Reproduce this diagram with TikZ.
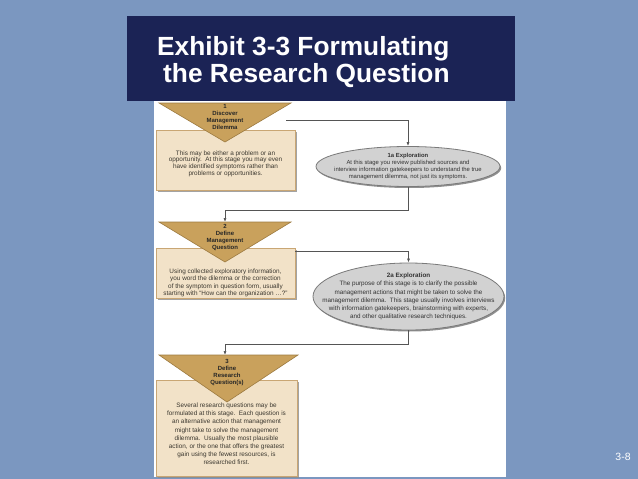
\documentclass[tikz,border=0pt]{standalone}
\usepackage{fontspec}
\setmainfont{Liberation Sans}
\usetikzlibrary{shadows,arrows.meta,shapes.geometric}
\definecolor{bgblue}{HTML}{7B97C0}
\definecolor{navy}{HTML}{1B2355}
\definecolor{trifill}{HTML}{C9A15C}
\definecolor{triedge}{HTML}{9C7A40}
\definecolor{boxfill}{HTML}{F2E2C8}
\definecolor{boxedge}{HTML}{C9A674}
\definecolor{ellfill}{HTML}{D2D2D2}
\definecolor{elledge}{HTML}{7A7A7A}
\definecolor{connc}{HTML}{555555}
\definecolor{txtc}{HTML}{3C3830}
\tikzset{
  boxst/.style={draw=boxedge, fill=boxfill, line width=0.8pt, inner sep=0pt,
    drop shadow={shadow xshift=1.8pt, shadow yshift=-1.8pt, fill=black!45, opacity=0.8}},
  trist/.style={draw=triedge, fill=trifill, line width=0.6pt, line join=miter},
  tritxt/.style={align=center, inner sep=0pt, text=black!85, font=\bfseries\fontsize{6}{6.7}\selectfont},
  boxtxt/.style={align=center, inner sep=0pt, text=txtc},
  ellst/.style={ellipse, draw=elledge, fill=ellfill, line width=0.8pt, inner sep=0pt,
    drop shadow={shadow xshift=1.2pt, shadow yshift=-1.5pt, fill=black!55, opacity=0.8}},
  elltxt/.style={align=center, inner sep=0pt, text=black!80},
  connst/.style={draw=connc, line width=0.7pt, -{Latex[length=4pt,width=3pt]}},
  titletxt/.style={anchor=base west, inner sep=0pt, text=white, font=\bfseries\fontsize{26.3}{27}\selectfont}
}
\begin{document}
\begin{tikzpicture}[x=1pt,y=-1pt]
\fill[bgblue] (0,0) rectangle (638,479);
\useasboundingbox (0,0) rectangle (638,479);
% panel
\fill[white] (154,101) rectangle (506,477);
% title
\fill[navy] (127,16) rectangle (515,101);
\node[titletxt] (t1) at (157,55) {Exhibit 3-3 Formulating};
\node[titletxt] (t2) at (163,82) {the Research Question};
% page number
\node[inner sep=0pt, text=white, font=\fontsize{10.5}{12}\selectfont] (pg) at (623,457) {3-8};

% step 1
\node[boxst, minimum width=139pt, minimum height=60pt] (b1) at (225.5,160) {};
\path[trist] (159,103) -- (291,103) -- (225,142) -- cycle;
\coordinate (tr1top) at (225,103);
\node[tritxt] (tr1) at (225,117) {1\\Discover\\Management\\Dilemma};
\node[boxtxt, font=\fontsize{6.4}{6.6}\selectfont] (b1t) at (225.5,163.5)
  {This may be either a problem or an\\opportunity.\ \ At this stage you may even\\have identified symptoms rather than\\problems or opportunities.};

% step 2
\node[boxst, minimum width=139pt, minimum height=50pt] (b2) at (225.5,273) {};
\path[trist] (159,222) -- (291,222) -- (225,262) -- cycle;
\coordinate (tr2top) at (225,222);
\node[tritxt] (tr2) at (225,237.5) {2\\Define\\Management\\Question};
\node[boxtxt, font=\fontsize{6.4}{7.4}\selectfont] (b2t) at (225.5,283)
  {Using collected exploratory information,\\you word the dilemma or the correction\\of the symptom in question form, usually\\starting with “How can the organization \dots?”};

% step 3
\node[boxst, minimum width=141pt, minimum height=96pt] (b3) at (226.5,428) {};
\path[trist] (159,355) -- (298,355) -- (227,402) -- cycle;
\coordinate (tr3top) at (225,355);
\node[tritxt] (tr3) at (227,372.5) {3\\Define\\Research\\Question(s)};
\node[boxtxt, font=\fontsize{6.4}{8.2}\selectfont] (b3t) at (226.5,434)
  {Several research questions may be\\formulated at this stage.\ \ Each question is\\an alternative action that management\\might take to solve the management\\dilemma.\ \ Usually the most plausible\\action, or the one that offers the greatest\\gain using the fewest resources, is\\researched first.};

% explorations
\node[ellst, minimum width=184pt, minimum height=40pt] (e1) at (408,166.5) {};
\node[elltxt, font=\fontsize{5.9}{7}\selectfont] (e1t) at (408,166.5)
  {\textbf{1a Exploration}\\At this stage you review published sources and\\interview information gatekeepers to understand the true\\management dilemma, not just its symptoms.};
\node[ellst, minimum width=191pt, minimum height=67pt] (e2) at (408.5,296.5) {};
\node[elltxt, font=\fontsize{6.3}{8.2}\selectfont] (e2t) at (408.5,296.5)
  {\textbf{2a Exploration}\\The purpose of this stage is to clarify the possible\\management actions that might be taken to solve the\\management dilemma.\ \ This stage usually involves interviews\\with information gatekeepers, brainstorming with experts,\\and other qualitative research techniques.};

% connectors
\coordinate (c1s) at (286,120);
\draw[connst] (c1s) -| (e1.north);
\draw[connst] (e1.south) -- (e1.south |- 0,210) -| (tr2top);
\draw[connst] ([yshift=-4pt]b2.north east) -| (e2.north);
\draw[connst] (e2.south) -- (e2.south |- 0,344) -| (tr3top);
\end{tikzpicture}
\end{document}
